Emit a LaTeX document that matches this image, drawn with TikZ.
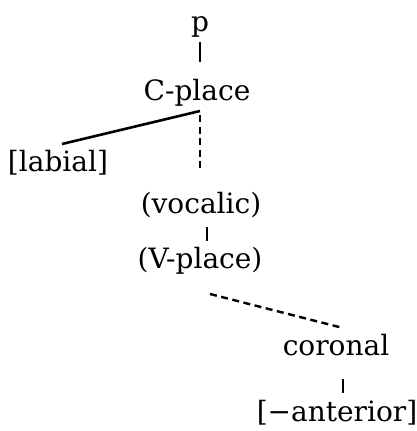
\documentclass[tikz,border=0pt]{standalone}
\usepackage{fontspec}
\setmainfont{DejaVu Serif}
\usetikzlibrary{calc}
\begin{document}
\begin{tikzpicture}[x=1pt,y=-1pt,
  lab/.style={inner sep=0pt,anchor=base,font=\fontsize{28}{33}\selectfont},
  thinln/.style={line width=1.5pt},
  thickln/.style={line width=2.6pt},
  dashln/.style={line width=2.4pt,dash pattern=on 7pt off 4.5pt}]
\useasboundingbox (0,0) rectangle (416,431);
\node[lab] (p) at (200,31) {p};
\node[lab] (C) at (197,100) {C-place};
\node[lab] (L) at (58,171) {[labial]};
\node[lab] (voc) at (201,213) {(vocalic)};
\node[lab] (V) at (200,268) {(V-place)};
\node[lab] (cor) at (336,355) {coronal};
\node[lab] (ant) at (337,421) {[−anterior]};
\draw[thinln] ($(p.base)+(0,11)$) -- ($(C.base)+(3,-38)$);
\draw[thickln] ($(C.base)+(3,11)$) -- ($(L.base)+(4,-27)$);
\draw[dashln] ($(C.base)+(3,15)$) -- ($(C.base)+(3,72)$);
\draw[thinln] ($(voc.base)+(6,14)$) -- ($(V.base)+(7,-27)$);
\draw[dashln] ($(V.base)+(10,26)$) -- ($(cor.base)+(7,-27)$);
\draw[thinln] ($(cor.base)+(7,24)$) -- ($(ant.base)+(6,-28)$);
\end{tikzpicture}
\end{document}
